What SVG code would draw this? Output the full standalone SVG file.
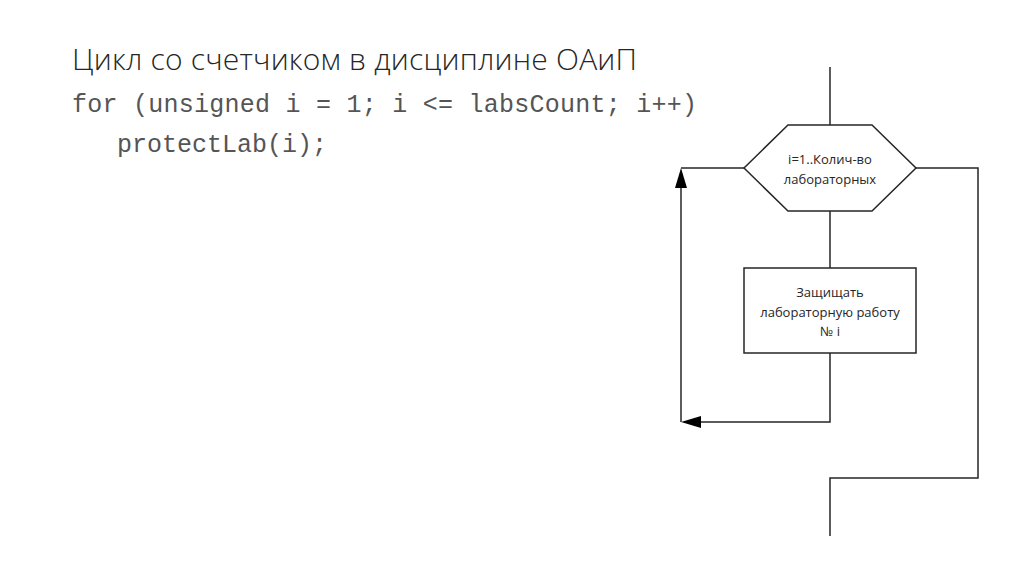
<svg xmlns="http://www.w3.org/2000/svg" width="1024" height="574" viewBox="0 0 1024 574">
<style>
.ln{fill:none;stroke:#262626;stroke-width:1.5}
.sh{fill:#fff;stroke:#262626;stroke-width:1.5}
.lb{font-family:"Open Sans","Liberation Sans",sans-serif;font-size:13px;fill:#262626;text-anchor:middle}
.code{font-family:"Liberation Mono",monospace;font-size:25px;fill:#555}
</style>
<rect width="1024" height="574" fill="#fff"/>
<text x="72" y="70" font-family="'Open Sans','Liberation Sans',sans-serif" font-weight="300" font-size="30" fill="#262626" textLength="565">Цикл со счетчиком в дисциплине ОАиП</text>
<text class="code" x="72" y="112" textLength="625">for (unsigned i = 1; i &lt;= labsCount; i++)</text>
<text class="code" x="117" y="152">protectLab(i);</text>
<g id="connectors">
<path class="ln" d="M830,67V125"/>
<path class="ln" d="M830,211V268"/>
<path class="ln" d="M830,353V422H700"/>
<path d="M681,422L701,416L701,428z" fill="#000"/>
<path class="ln" d="M681,422V186"/>
<path d="M681,168L675,188L687,188z" fill="#000"/>
<path class="ln" d="M681,168H744"/>
<path class="ln" d="M916,168H978V478H830V536"/>
</g>
<g id="loop">
<path class="sh" d="M788,125H872L916,168L872,211H788L744,168z"/>
<text class="lb" x="830" y="164">i=1..Колич-во</text>
<text class="lb" x="830" y="184">лабораторных</text>
</g>
<g id="body">
<rect class="sh" x="744" y="268" width="172" height="85"/>
<text class="lb" x="830" y="297">Защищать</text>
<text class="lb" x="830" y="317">лабораторную работу</text>
<text class="lb" x="830" y="336">№ i</text>
</g>
</svg>
